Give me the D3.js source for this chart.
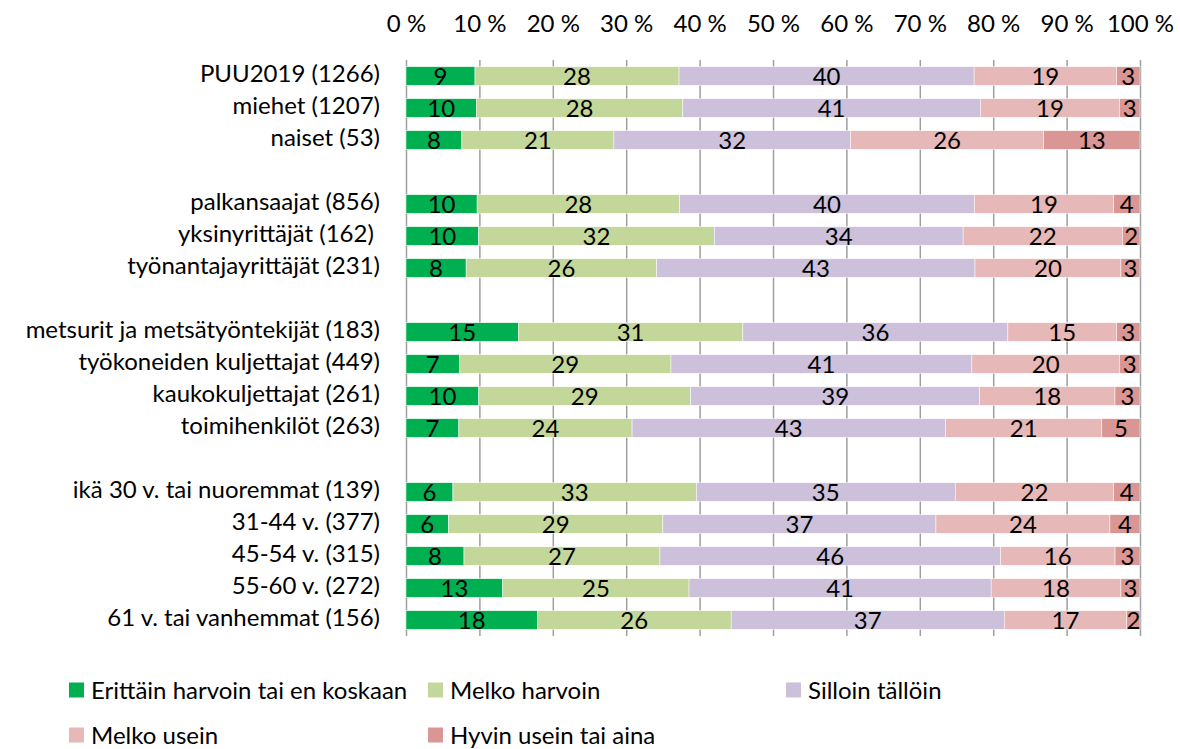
<!DOCTYPE html>
<html>
<head>
<meta charset="utf-8">
<script src="https://cdn.jsdelivr.net/npm/d3@7/dist/d3.min.js"></script>
<style>
  body { margin: 0; background: #fff; }
  text { font-family: Lato, "Open Sans", sans-serif; fill: #000; }
</style>
</head>
<body>
<div id="chart"></div>
<script>
"use strict";

// row labels, "" = empty spacer row
const groups = [
  "PUU2019 (1266)", "miehet (1207)", "naiset (53)", "",
  "palkansaajat (856)", "yksinyrittäjät (162) ", "työnantajayrittäjät (231)", "",
  "metsurit ja metsätyöntekijät (183)", "työkoneiden kuljettajat (449)",
  "kaukokuljettajat (261)", "toimihenkilöt (263)", "",
  "ikä 30 v. tai nuoremmat (139)", "31-44 v. (377)", "45-54 v. (315)",
  "55-60 v. (272)", "61 v. tai vanhemmat (156)"
];

// shares in %, null for spacer rows
const erittainHarvoin = [9.4, 9.6, 7.6, null, 9.7, 9.9, 8.2, null, 15.3, 7.3, 9.9, 7.2, null, 6.4, 5.8, 7.9, 13.2, 17.9];
const melkoHarvoin    = [27.8, 28.2, 20.7, null, 27.6, 32.1, 26.0, null, 30.6, 28.8, 28.8, 23.6, null, 33.2, 29.2, 26.7, 25.4, 26.4];
const silloinTalloin  = [40.2, 40.6, 32.2, null, 40.2, 33.9, 43.4, null, 36.1, 41.0, 39.3, 42.7, null, 35.3, 37.2, 46.4, 41.2, 37.2];
const melkoUsein      = [19.4, 19.0, 26.3, null, 19.0, 21.7, 19.9, null, 14.8, 20.1, 18.4, 21.3, null, 21.6, 23.7, 15.6, 17.7, 16.7];
const hyvinUsein      = [3.2, 2.8, 13.1, null, 3.6, 2.4, 2.6, null, 3.2, 2.8, 3.4, 5.2, null, 3.6, 4.1, 3.4, 2.6, 1.8];

const seriesNames = ["Erittäin harvoin tai en koskaan", "Melko harvoin", "Silloin tällöin", "Melko usein", "Hyvin usein tai aina"];
const seriesValues = [erittainHarvoin, melkoHarvoin, silloinTalloin, melkoUsein, hyvinUsein];
const colors = ["#00b050", "#c4d79b", "#ccc0da", "#e6b8b7", "#da9694"];
const tickValues = [0, 0.1, 0.2, 0.3, 0.4, 0.5, 0.6, 0.7, 0.8, 0.9, 1];

const W = 1180, H = 749;
const plot = {left: 406, right: 1140, top: 60, bottom: 636};
const fontSize = "24px";

const svg = d3.select("#chart")
  .append("svg")
  .attr("width", W)
  .attr("height", H);

// build rows for the stack (spacer rows skipped)
const rows = [];
groups.forEach(function(g, i) {
  if (erittainHarvoin[i] == null) return;
  const r = {idx: i};
  seriesNames.forEach(function(s, k) { r[s] = seriesValues[k][i]; });
  rows.push(r);
});

const stacked = d3.stack()
  .keys(seriesNames)
  .offset(d3.stackOffsetExpand)(rows);

const x = d3.scaleLinear()
  .domain([0, 1])
  .range([plot.left, plot.right]);

const y = d3.scaleBand()
  .domain(d3.range(groups.length))
  .range([plot.top, plot.bottom])
  .paddingInner(0.42)
  .paddingOuter(0.21);

// vertical gridlines
const grid = svg.append("g")
  .attr("transform", "translate(0," + plot.top + ")")
  .call(d3.axisBottom(x)
    .tickValues(tickValues)
    .tickSize(plot.bottom - plot.top)
    .tickFormat(""));
grid.select(".domain").remove();
grid.selectAll("line")
  .attr("stroke", "#9f9f9f")
  .attr("stroke-width", 1.5);

// percent labels on top
const topAxis = svg.append("g")
  .attr("transform", "translate(0,32)")
  .call(d3.axisTop(x)
    .tickValues(tickValues)
    .tickSize(0)
    .tickPadding(0)
    .tickFormat(d => Math.round(d * 100) + " %"));
topAxis.select(".domain").remove();
topAxis.selectAll("text")
  .style("font-family", "Lato, sans-serif")
  .style("font-size", fontSize)
  .attr("fill", "#000");

// category labels
const leftAxis = svg.append("g")
  .attr("transform", "translate(" + plot.left + ",0)")
  .call(d3.axisLeft(y)
    .tickSize(0)
    .tickPadding(26)
    .tickFormat(i => groups[i]));
leftAxis.select(".domain").remove();
leftAxis.selectAll("text")
  .style("font-family", "Lato, sans-serif")
  .style("font-size", fontSize)
  .style("white-space", "pre")
  .attr("dy", "0.24em")
  .attr("fill", "#000");

// bars
const layers = svg.append("g")
  .selectAll("g")
  .data(stacked)
  .join("g")
  .attr("fill", (d, k) => colors[k]);

layers.selectAll("rect")
  .data(d => d)
  .join("rect")
  .attr("x", d => x(d[0]))
  .attr("y", d => y(d.data.idx))
  .attr("width", d => x(d[1]) - x(d[0]))
  .attr("height", y.bandwidth())
  .attr("stroke", "#fff")
  .attr("stroke-width", 0.5);

// value labels
layers.selectAll("text")
  .data(function(d) { return d.map(p => ({p: p, key: d.key})); })
  .join("text")
  .attr("x", d => (x(d.p[0]) + x(d.p[1])) / 2)
  .attr("y", d => y(d.p.data.idx) + y.bandwidth() / 2)
  .attr("dy", "0.37em")
  .attr("text-anchor", "middle")
  .attr("fill", "#000")
  .style("font-size", fontSize)
  .text(d => Math.round(d.p.data[d.key]));

// legend
const legendCols = [69, 428, 786];
const legendRows = [690, 735];
const legend = svg.append("g")
  .selectAll("g")
  .data(seriesNames)
  .join("g")
  .attr("transform", (d, k) => "translate(" + legendCols[k % 3] + "," + legendRows[Math.floor(k / 3)] + ")");

legend.append("rect")
  .attr("x", 0)
  .attr("y", -7.5)
  .attr("width", 15)
  .attr("height", 15)
  .attr("fill", (d, k) => colors[k]);

legend.append("text")
  .attr("x", 22)
  .attr("dy", "0.36em")
  .style("font-size", fontSize)
  .text(d => d);
</script>
</body>
</html>
